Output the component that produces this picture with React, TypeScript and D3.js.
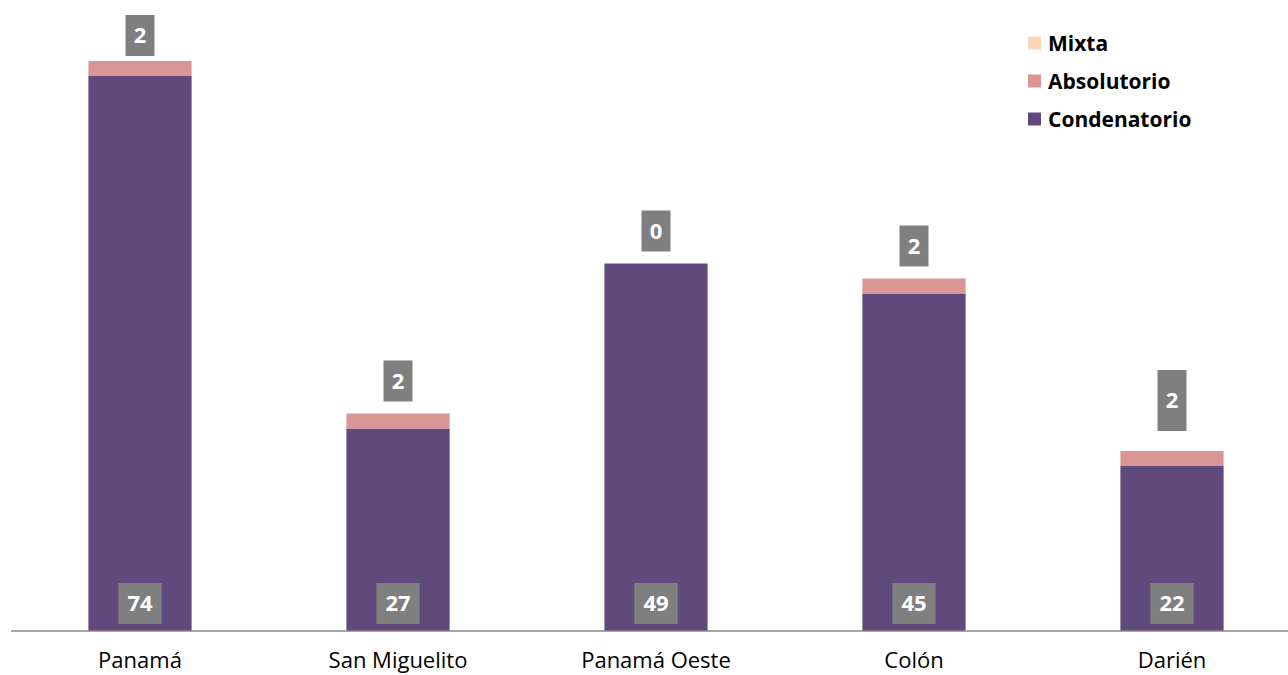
import React from "react";
import * as d3 from "d3";

const categories = ["Panamá", "San Miguelito", "Panamá Oeste", "Colón", "Darién"];
const condenatorio = [74, 27, 49, 45, 22];
const absolutorio = [2, 2, 0, 2, 2];
const mixta = [0, 0, 0, 0, 0];
const seriesNames = ["Condenatorio", "Absolutorio", "Mixta"];
const legendOrder = ["Mixta", "Absolutorio", "Condenatorio"];

const colors: Record<string, string> = {
  Condenatorio: "#5f4a7b",
  Absolutorio: "#d99694",
  Mixta: "#fcd5b5",
};

// layout tweaks for the top labels (gap above bar, box height)
const topGap = [5, 12, 12, 12, 20];
const topBoxH = [41, 41, 41, 41, 61];

const W = 1288;
const H = 675;
const FONT = "'Open Sans', 'DejaVu Sans', sans-serif";

export default function App() {
  const x = d3
    .scaleBand<string>()
    .domain(categories)
    .range([11, 1301])
    .paddingInner(0.6)
    .paddingOuter(0.3);
  const y = d3.scaleLinear().domain([0, 80]).range([631, 31]);

  const table = categories.map((c, i) => ({
    cat: c,
    Condenatorio: condenatorio[i],
    Absolutorio: absolutorio[i],
    Mixta: mixta[i],
  }));
  const stacked = d3.stack<any>().keys(seriesNames)(table);

  const boxW = (s: string) => 14.5 + 14.5 * s.length;

  return (
    <svg
      width={W}
      height={H}
      style={{ position: "absolute", left: 0, top: 0, background: "#fff" }}
      fontFamily={FONT}
    >
      {stacked.map((layer) => (
        <g key={layer.key} fill={colors[layer.key]}>
          {layer.map((d, i) =>
            d[1] - d[0] > 0 ? (
              <rect
                key={i}
                x={x(categories[i])}
                y={y(d[1])}
                width={x.bandwidth()}
                height={y(d[0]) - y(d[1])}
              />
            ) : null
          )}
        </g>
      ))}
      <line x1={11} x2={1288} y1={y(0)} y2={y(0)} stroke="#8a8a8a" strokeWidth={1.5} />

      {categories.map((c, i) => {
        const cx = (x(c) as number) + x.bandwidth() / 2;
        const bot = String(condenatorio[i]);
        const top = String(absolutorio[i]);
        const total = condenatorio[i] + absolutorio[i] + mixta[i];
        const tb = y(total) - topGap[i];
        const th = topBoxH[i];
        return (
          <g key={c}>
            <rect x={cx - boxW(bot) / 2} y={583} width={boxW(bot)} height={41} fill="#7f7f7f" />
            <text
              x={cx}
              y={603.5}
              dy="0.36em"
              textAnchor="middle"
              fill="#fff"
              fontWeight="bold"
              fontSize={22}
            >
              {bot}
            </text>
            <rect x={cx - boxW(top) / 2} y={tb - th} width={boxW(top)} height={th} fill="#7f7f7f" />
            <text
              x={cx}
              y={tb - th / 2}
              dy="0.36em"
              textAnchor="middle"
              fill="#fff"
              fontWeight="bold"
              fontSize={22}
            >
              {top}
            </text>
            <text x={cx} y={668} textAnchor="middle" fill="#000" fontSize={22}>
              {c}
            </text>
          </g>
        );
      })}

      {legendOrder.map((s, i) => {
        const cy = 43 + i * 38;
        return (
          <g key={s}>
            <rect x={1028} y={cy - 6.5} width={13} height={13} fill={colors[s]} />
            <text x={1048} y={cy} dy="0.36em" fontWeight="bold" fontSize={21} fill="#000">
              {s}
            </text>
          </g>
        );
      })}
    </svg>
  );
}
